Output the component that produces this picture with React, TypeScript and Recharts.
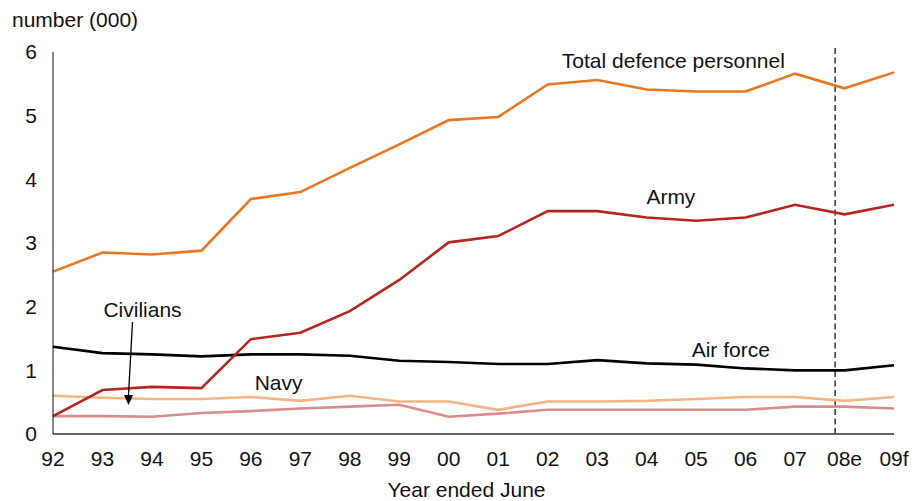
import React from 'react';
import { LineChart, Line, XAxis, YAxis, ReferenceLine, ReferenceDot } from 'recharts';

const categories = ['92', '93', '94', '95', '96', '97', '98', '99', '00', '01', '02', '03', '04', '05', '06', '07', '08e', '09f'];
const totalDefence = [2.55, 2.85, 2.82, 2.88, 3.69, 3.8, 4.18, 4.55, 4.93, 4.98, 5.49, 5.56, 5.41, 5.38, 5.38, 5.66, 5.43, 5.68];
const army = [0.28, 0.69, 0.74, 0.72, 1.49, 1.59, 1.93, 2.42, 3.01, 3.11, 3.5, 3.5, 3.4, 3.35, 3.4, 3.6, 3.45, 3.6];
const airForce = [1.37, 1.27, 1.25, 1.22, 1.25, 1.25, 1.23, 1.15, 1.13, 1.1, 1.1, 1.16, 1.11, 1.09, 1.03, 1.0, 1.0, 1.08];
const navy = [0.6, 0.57, 0.55, 0.55, 0.58, 0.52, 0.6, 0.51, 0.51, 0.38, 0.51, 0.51, 0.52, 0.55, 0.58, 0.58, 0.52, 0.58];
const civilians = [0.28, 0.28, 0.27, 0.33, 0.36, 0.4, 0.43, 0.46, 0.27, 0.32, 0.38, 0.38, 0.38, 0.38, 0.38, 0.43, 0.43, 0.4];
const yTicks = [0, 1, 2, 3, 4, 5, 6];
const xTicks = categories.map((_, i) => i);

const data = categories.map((c, i) => ({
  x: i,
  label: c,
  total: totalDefence[i],
  army: army[i],
  airForce: airForce[i],
  navy: navy[i],
  civilians: civilians[i],
}));

const FONT = '"Liberation Sans", Arial, sans-serif';
const FS = 21;
const labelStyle = { fill: '#111', fontSize: FS, fontFamily: FONT };

const ArrowHead = (props: any) => {
  const { cx, cy } = props;
  if (cx == null || cy == null) return null;
  return <polygon points={`${cx},${cy} ${cx - 4.5},${cy - 10} ${cx + 4.5},${cy - 10}`} fill="#000" />;
};

const NoDot = () => null;

export default function App() {
  return (
    <div style={{ position: 'absolute', left: 0, top: 0, width: 920, height: 501, background: '#fff', fontFamily: FONT }}>
      <div style={{ position: 'absolute', left: 12, top: 10, fontSize: FS, lineHeight: '20px', color: '#111', whiteSpace: 'nowrap' }}>
        number (000)
      </div>
      <LineChart width={920} height={501} data={data} margin={{ top: 52, right: 26, bottom: 0, left: 0 }}>
        <XAxis
          dataKey="x"
          type="number"
          domain={[0, 17]}
          ticks={xTicks}
          interval={0}
          tickFormatter={(v: number) => categories[v]}
          tickLine={false}
          tickSize={0}
          tickMargin={17}
          height={67}
          axisLine={{ stroke: '#333', strokeWidth: 1.5 }}
          tick={{ fill: '#111', fontSize: FS, fontFamily: FONT }}
          label={{ value: 'Year ended June', position: 'insideBottom', offset: 4, dx: -7, style: labelStyle }}
        />
        <YAxis
          type="number"
          domain={[0, 6]}
          ticks={yTicks}
          interval={0}
          width={53}
          tickLine={false}
          tickSize={0}
          tickMargin={16}
          axisLine={{ stroke: '#111', strokeWidth: 1 }}
          tick={{ fill: '#111', fontSize: FS, fontFamily: FONT }}
        />
        <ReferenceLine
          segment={[{ x: 15.81, y: 0 }, { x: 15.81, y: 6.07 }]}
          stroke="#333"
          strokeWidth={1.5}
          strokeDasharray="6 3.5"
          ifOverflow="visible"
        />
        <Line type="linear" dataKey="civilians" stroke="#D98C8C" strokeWidth={2.6} dot={false} isAnimationActive={false} />
        <Line type="linear" dataKey="navy" stroke="#F4B584" strokeWidth={2.6} dot={false} isAnimationActive={false} />
        <Line type="linear" dataKey="airForce" stroke="#000000" strokeWidth={2.6} dot={false} isAnimationActive={false} />
        <Line type="linear" dataKey="army" stroke="#B5261E" strokeWidth={2.6} dot={false} isAnimationActive={false} />
        <Line type="linear" dataKey="total" stroke="#E87722" strokeWidth={2.6} dot={false} isAnimationActive={false} />
        <ReferenceLine
          segment={[{ x: 1.607, y: 1.758 }, { x: 1.526, y: 0.61 }]}
          stroke="#000"
          strokeWidth={1.3}
          ifOverflow="visible"
        />
        <ReferenceDot x={1.526} y={0.455} r={0} shape={ArrowHead} ifOverflow="visible" />
        <ReferenceDot x={12.54} y={5.87} r={0} shape={NoDot} ifOverflow="visible"
          label={{ value: 'Total defence personnel', position: 'center', style: labelStyle }} />
        <ReferenceDot x={12.49} y={3.73} r={0} shape={NoDot} ifOverflow="visible"
          label={{ value: 'Army', position: 'center', style: labelStyle }} />
        <ReferenceDot x={13.7} y={1.32} r={0} shape={NoDot} ifOverflow="visible"
          label={{ value: 'Air force', position: 'center', style: labelStyle }} />
        <ReferenceDot x={4.56} y={0.81} r={0} shape={NoDot} ifOverflow="visible"
          label={{ value: 'Navy', position: 'center', style: labelStyle }} />
        <ReferenceDot x={1.81} y={1.95} r={0} shape={NoDot} ifOverflow="visible"
          label={{ value: 'Civilians', position: 'center', style: labelStyle }} />
      </LineChart>
    </div>
  );
}
